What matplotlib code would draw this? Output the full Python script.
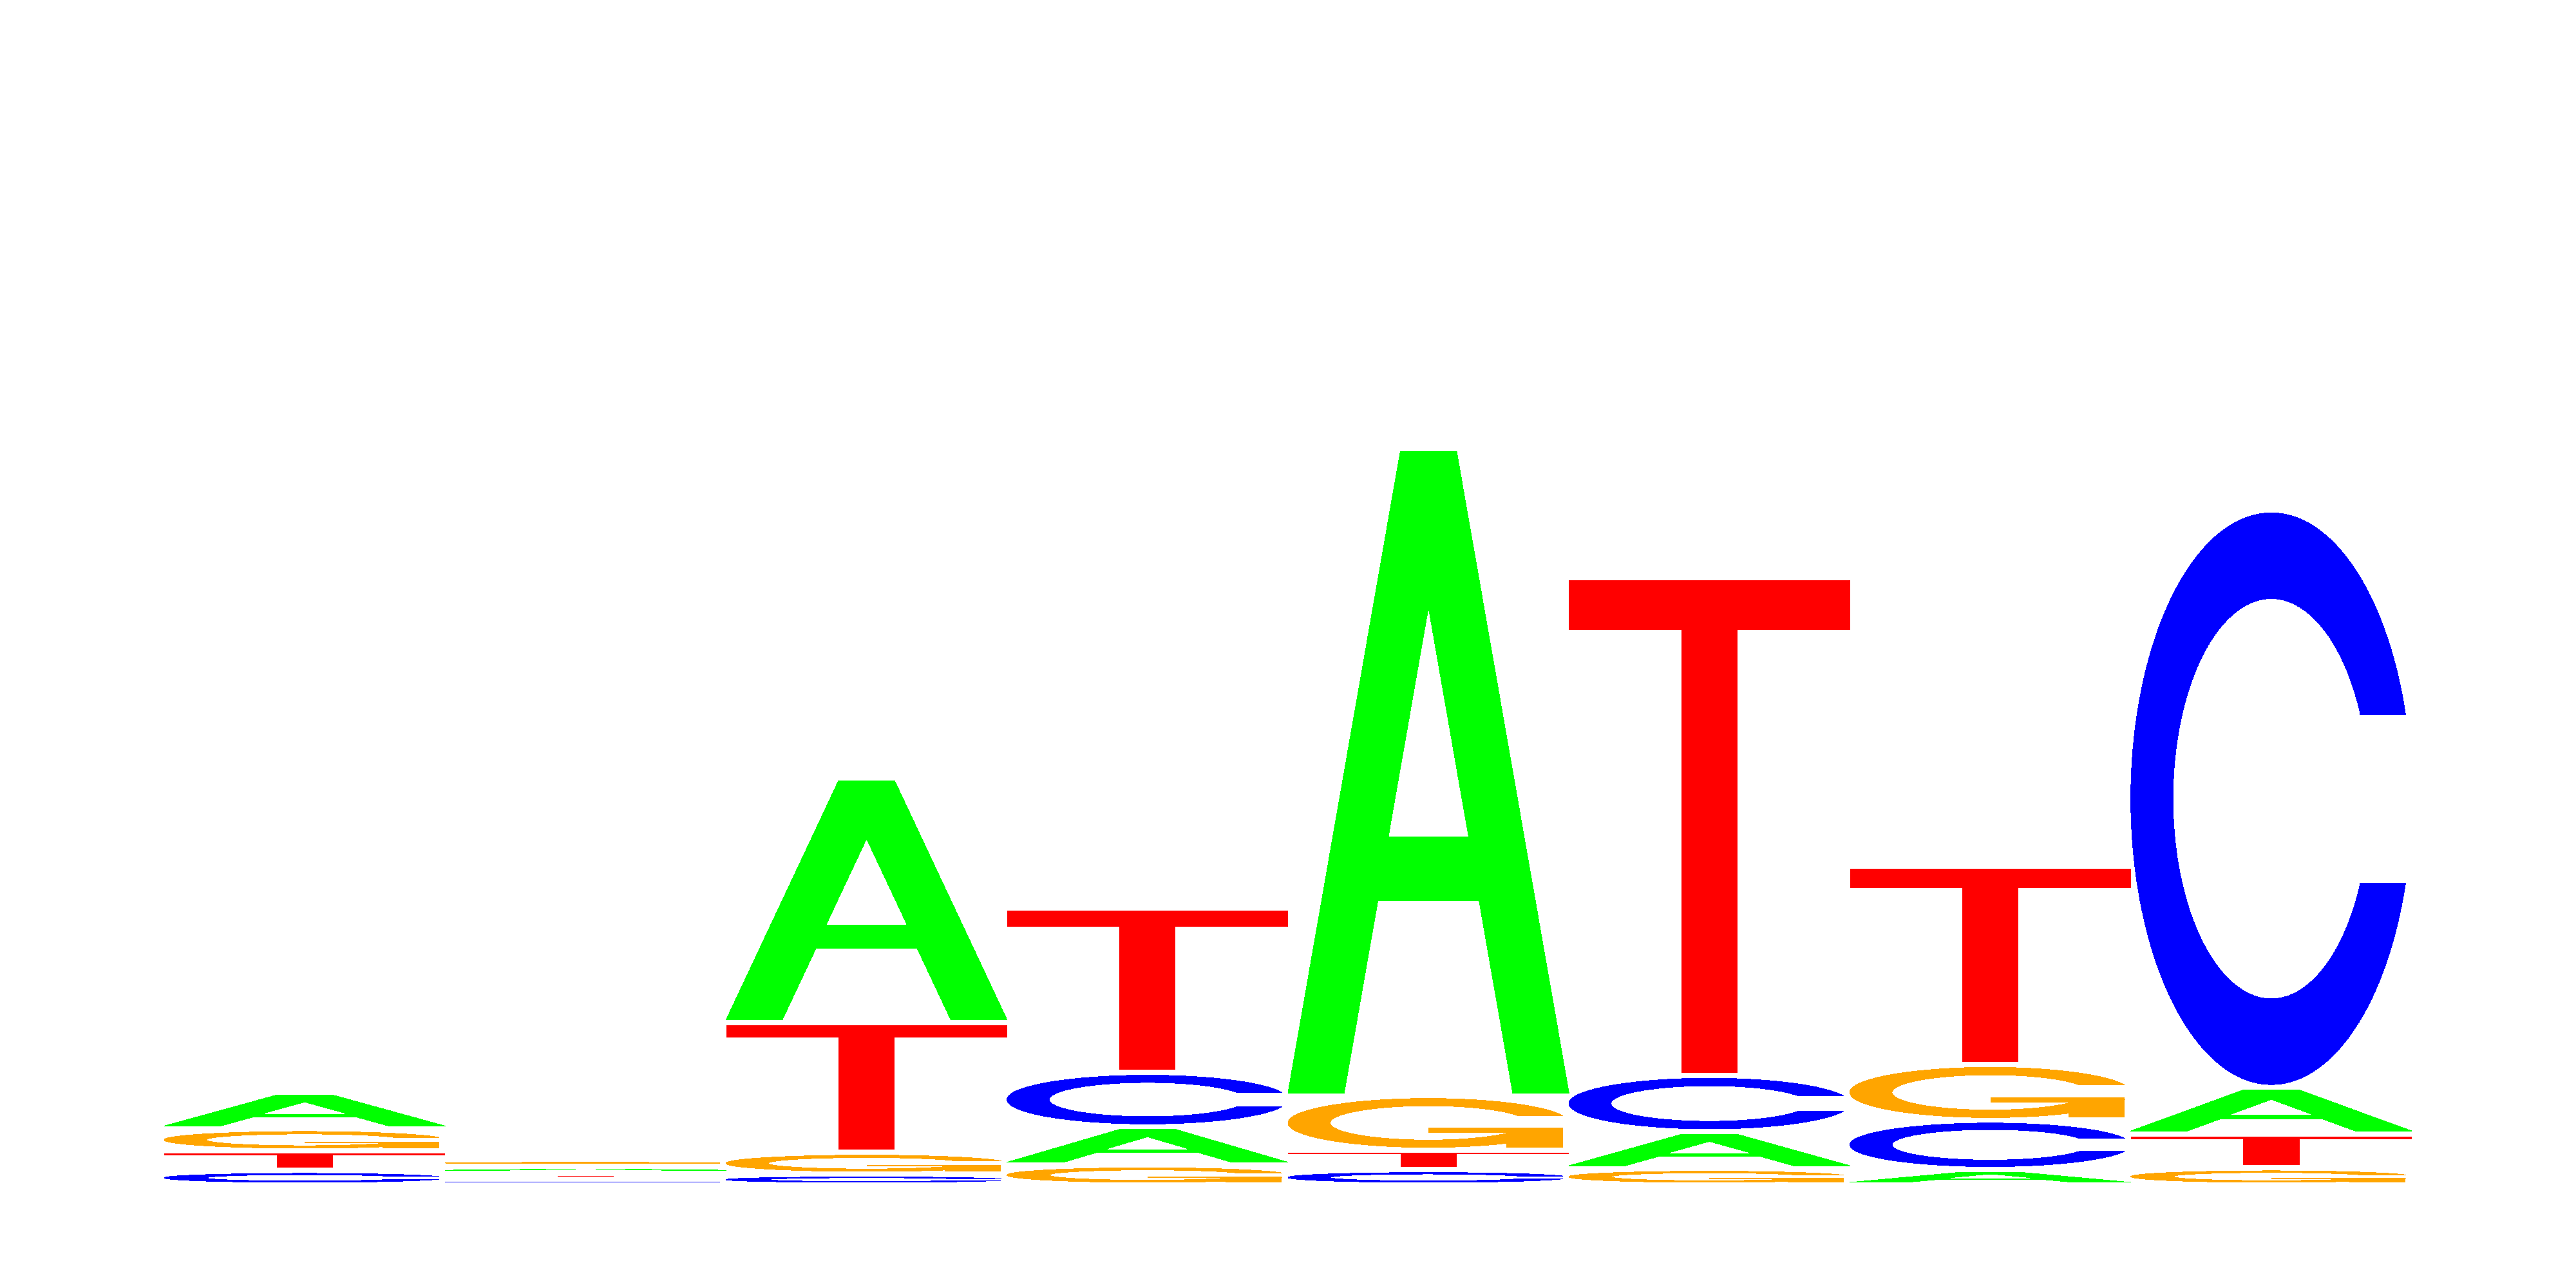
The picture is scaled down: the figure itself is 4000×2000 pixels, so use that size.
import numpy as np
import matplotlib
matplotlib.use("Agg")
import matplotlib.pyplot as plt

# sequence logo, heights in bits as drawn
positions = [1, 2, 3, 4, 5, 6, 7, 8]
height_A = [0.0565, 0.0020, 0.4365, 0.0600, 1.1726, 0.0573, 0.0188, 0.0749]
height_C = [0.0165, 0.0010, 0.0100, 0.0891, 0.0180, 0.0926, 0.0796, 1.0444]
height_G = [0.0306, 0.0024, 0.0298, 0.0267, 0.0894, 0.0204, 0.0918, 0.0212]
height_T = [0.0259, 0.0012, 0.2271, 0.2902, 0.0259, 0.8996, 0.3526, 0.0526]

letters = ["A", "C", "G", "T"]
colors = {"A": "#00ff00", "C": "#0000ff", "G": "#ffa500", "T": "#ff0000"}
gap = 0.01


def ring_shape():
    # C-shaped outline in a unit box (same construction as seqLogo)
    a1 = np.linspace(0.3 + np.pi / 2, np.pi, 100)
    a2 = np.linspace(np.pi, 1.5 * np.pi, 100)
    xl1, yl1 = 0.5 + 0.5 * np.sin(a1), 0.5 + 0.5 * np.cos(a1)
    xl2, yl2 = 0.5 + 0.5 * np.sin(a2), 0.5 + 0.5 * np.cos(a2)
    xl, yl = np.r_[xl1, xl2], np.r_[yl1, yl2]
    x = np.r_[xl, xl[::-1]]
    y = np.r_[yl, 1 - yl[::-1]]
    xi1, yi1 = 0.5 + 0.35 * np.sin(a1), 0.5 + 0.35 * np.cos(a1)
    keep = yi1 <= yl1.max()
    xi1, yi1 = xi1[keep], yi1[keep]
    yi1[0] = yl1.max()
    xi2, yi2 = 0.5 + 0.35 * np.sin(a2), 0.5 + 0.35 * np.cos(a2)
    xi, yi = np.r_[xi1, xi2], np.r_[yi1, yi2]
    x1 = np.r_[xi, xi[::-1]]
    y1 = np.r_[yi, 1 - yi[::-1]]
    return np.r_[x, x1[::-1]], np.r_[y, y1[::-1]], xl1.max()


def glyph_polys(letter):
    if letter == "A":
        x = np.array([0, 4, 6, 10, 8, 6.8, 3.2, 2, 0]) / 10
        y = np.array([0, 10, 10, 0, 0, 3, 3, 0, 0]) / 10
        hx = np.array([3.6, 5, 6.4, 3.6]) / 10
        hy = np.array([4, 7.5, 4, 4]) / 10
        return [(x, y, colors["A"]), (hx, hy, "white")]
    if letter == "T":
        x = np.array([0, 10, 10, 6, 6, 4, 4, 0]) / 10
        y = np.array([10, 10, 9, 9, 0, 0, 9, 9]) / 10
        return [(x, y, colors["T"])]
    x, y, r1 = ring_shape()
    if letter == "C":
        return [(x, y, colors["C"])]
    h1 = 0.4
    xa = np.array([r1, 0.5, 0.5, r1 - 0.2, r1 - 0.2, r1, r1])
    ya = np.array([h1, h1, h1 - 0.1, h1 - 0.1, 0, 0, h1])
    return [(x, y, colors["G"]), (xa, ya, colors["G"])]


fig = plt.figure(figsize=(40, 20), dpi=100)
ax = fig.add_axes([255 / 4000, 164 / 2000, 3490 / 4000, 0.85])
ax.set_xlim(0.5, 8.5)
ax.set_ylim(0, 2.0)
ax.axis("off")

heights = {"A": height_A, "C": height_C, "G": height_G, "T": height_T}
for j, pos in enumerate(positions):
    col = [(heights[l][j], l) for l in letters]
    col.sort(key=lambda t: t[0])
    x0 = pos - 0.5
    y0 = 0.0
    for ht, l in col:
        if ht > 0:
            for gx, gy, c in glyph_polys(l):
                ax.fill(x0 + gx, y0 + ht * gy, color=c, lw=0, antialiased=False)
        y0 += ht + gap

fig.savefig("out.png", dpi=100, facecolor="white")
